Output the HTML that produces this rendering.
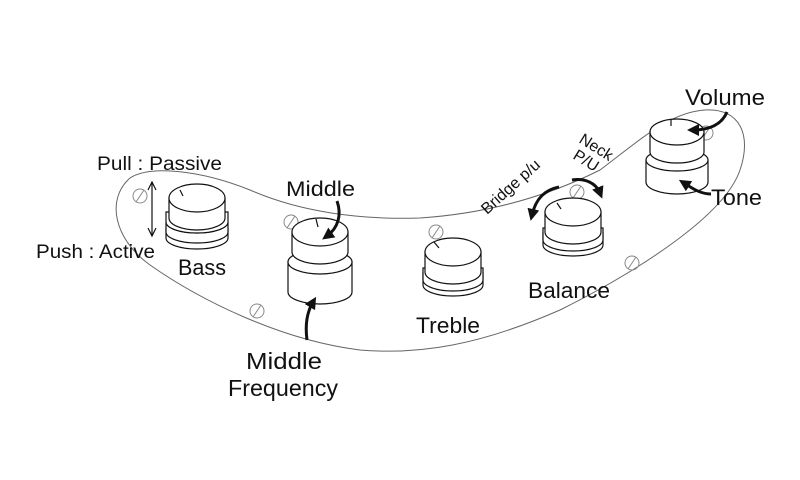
<!DOCTYPE html>
<html><head><meta charset="utf-8"><style>
html,body{margin:0;padding:0;background:#fff;width:800px;height:480px;overflow:hidden}
text{font-family:"Liberation Sans",sans-serif;fill:#111}
</style></head><body>
<svg width="800" height="480" viewBox="0 0 800 480" xmlns="http://www.w3.org/2000/svg">
<defs>
<marker id="ah" viewBox="0 0 10 10" refX="5" refY="5" markerWidth="4" markerHeight="4" orient="auto"><path d="M0,0 L10,5 L0,10 z" fill="#111"/></marker>
</defs>
<path d="M130,178 C150,165 200,170 250,190 C300,212 360,220 420,218 C480,214 540,200 600,170 C640,140 670,112 705,110 C740,108 752,135 740,170 C725,215 640,270 560,310 C480,345 420,355 360,350 C280,340 200,300 150,265 C115,240 105,200 130,178 Z" fill="none" stroke="#666" stroke-width="1"/>
<g fill="none" stroke="#888" stroke-width="1">
<circle cx="140" cy="196" r="7"/><line x1="136" y1="202" x2="144" y2="190"/>
<circle cx="291" cy="222" r="7"/><line x1="287" y1="228" x2="295" y2="216"/>
<circle cx="257" cy="311" r="7"/><line x1="253" y1="317" x2="261" y2="305"/>
<circle cx="436" cy="232" r="7"/><line x1="432" y1="238" x2="440" y2="226"/>
<circle cx="577" cy="192" r="7"/><line x1="573" y1="198" x2="581" y2="186"/>
<circle cx="632" cy="263" r="7"/><line x1="628" y1="269" x2="636" y2="257"/>
<circle cx="706" cy="133" r="7"/><line x1="702" y1="139" x2="710" y2="127"/>
</g>
<g fill="#fff" stroke="#111" stroke-width="1.2">
<path d="M166,228 L166,238 A31,11 0 0 0 228,238 L228,228"/>
<path d="M166,222 A31,11 0 0 0 228,222 L228,232 A31,11 0 0 1 166,232 Z"/>
<path d="M166,212 L166,222 A31,11 0 0 0 228,222 L228,212 Z"/>
<path d="M169,198 L169,218 A28,12 0 0 0 225,218 L225,198 Z"/>
<ellipse cx="197" cy="198" rx="28" ry="14"/>
<line x1="180" y1="190" x2="183" y2="196"/>
<path d="M288,262 L288,292 A32,12 0 0 0 352,292 L352,262 Z"/>
<ellipse cx="320" cy="262" rx="32" ry="12"/>
<path d="M292,232 L292,252 A28,12 0 0 0 348,252 L348,232 Z"/>
<ellipse cx="320" cy="232" rx="28" ry="14"/>
<line x1="316" y1="219" x2="318" y2="227"/>
<path d="M423,272 L423,285 A30,11 0 0 0 483,285 L483,272"/>
<path d="M423,268 L423,280 A30,11 0 0 0 483,280 L483,268 Z"/>
<path d="M425,252 L425,272 A28,12 0 0 0 481,272 L481,252 Z"/>
<ellipse cx="453" cy="252" rx="28" ry="14"/>
<line x1="434" y1="242" x2="439" y2="248"/>
<path d="M543,232 L543,245 A30,11 0 0 0 603,245 L603,232"/>
<path d="M543,228 L543,240 A30,11 0 0 0 603,240 L603,228 Z"/>
<path d="M545,212 L545,232 A28,12 0 0 0 601,232 L601,212 Z"/>
<ellipse cx="573" cy="212" rx="28" ry="14"/>
<line x1="557" y1="203" x2="561" y2="209"/>
<path d="M646,160 L646,182 A31,12 0 0 0 708,182 L708,160 Z"/>
<ellipse cx="677" cy="160" rx="31" ry="11"/>
<path d="M650,132 L650,152 A27,11 0 0 0 704,152 L704,132 Z"/>
<ellipse cx="677" cy="132" rx="27" ry="13"/>
<line x1="671" y1="119" x2="671" y2="126"/>
</g>
<g fill="none" stroke="#111" stroke-width="1.2">
<line x1="152" y1="182" x2="152" y2="236"/>
<path d="M148,190 L152,182 L156,190"/>
<path d="M148,228 L152,236 L156,228"/>
</g>
<g fill="none" stroke="#111" stroke-width="3">
<path d="M337,201 C342,215 338,228 327,236" marker-end="url(#ah)"/>
<path d="M307,340 C305,325 307,312 313,302" marker-end="url(#ah)"/>
<path d="M727,112 C722,124 710,130 693,130" marker-end="url(#ah)"/>
<path d="M711,194 C700,194 692,188 684,183" marker-end="url(#ah)"/>
<path d="M559,187 C545,190 536,198 532,215" marker-end="url(#ah)"/>
<path d="M572,180 C585,178 596,183 600,193" marker-end="url(#ah)"/>
</g>
<text x="97" y="170" font-size="19" textLength="125" lengthAdjust="spacingAndGlyphs">Pull : Passive</text>
<text x="36" y="258" font-size="19" textLength="119" lengthAdjust="spacingAndGlyphs">Push : Active</text>
<text x="178" y="275" font-size="22" textLength="48" lengthAdjust="spacingAndGlyphs">Bass</text>
<text x="286" y="196" font-size="21" textLength="69" lengthAdjust="spacingAndGlyphs">Middle</text>
<text x="246" y="369" font-size="23" textLength="76" lengthAdjust="spacingAndGlyphs">Middle</text>
<text x="228" y="396" font-size="23" textLength="110" lengthAdjust="spacingAndGlyphs">Frequency</text>
<text x="416" y="333" font-size="22" textLength="64" lengthAdjust="spacingAndGlyphs">Treble</text>
<text x="528" y="298" font-size="22" textLength="82" lengthAdjust="spacingAndGlyphs">Balance</text>
<text x="685" y="105" font-size="22" textLength="80" lengthAdjust="spacingAndGlyphs">Volume</text>
<text x="711" y="205" font-size="22" textLength="51" lengthAdjust="spacingAndGlyphs">Tone</text>
<text x="0" y="0" font-size="16" transform="translate(487,215) rotate(-42)">Bridge p/u</text>
<text x="0" y="0" font-size="16" transform="translate(578,142) rotate(32)">Neck</text>
<text x="0" y="0" font-size="16" transform="translate(572,158) rotate(32)">P/U</text>
</svg>
</body></html>
